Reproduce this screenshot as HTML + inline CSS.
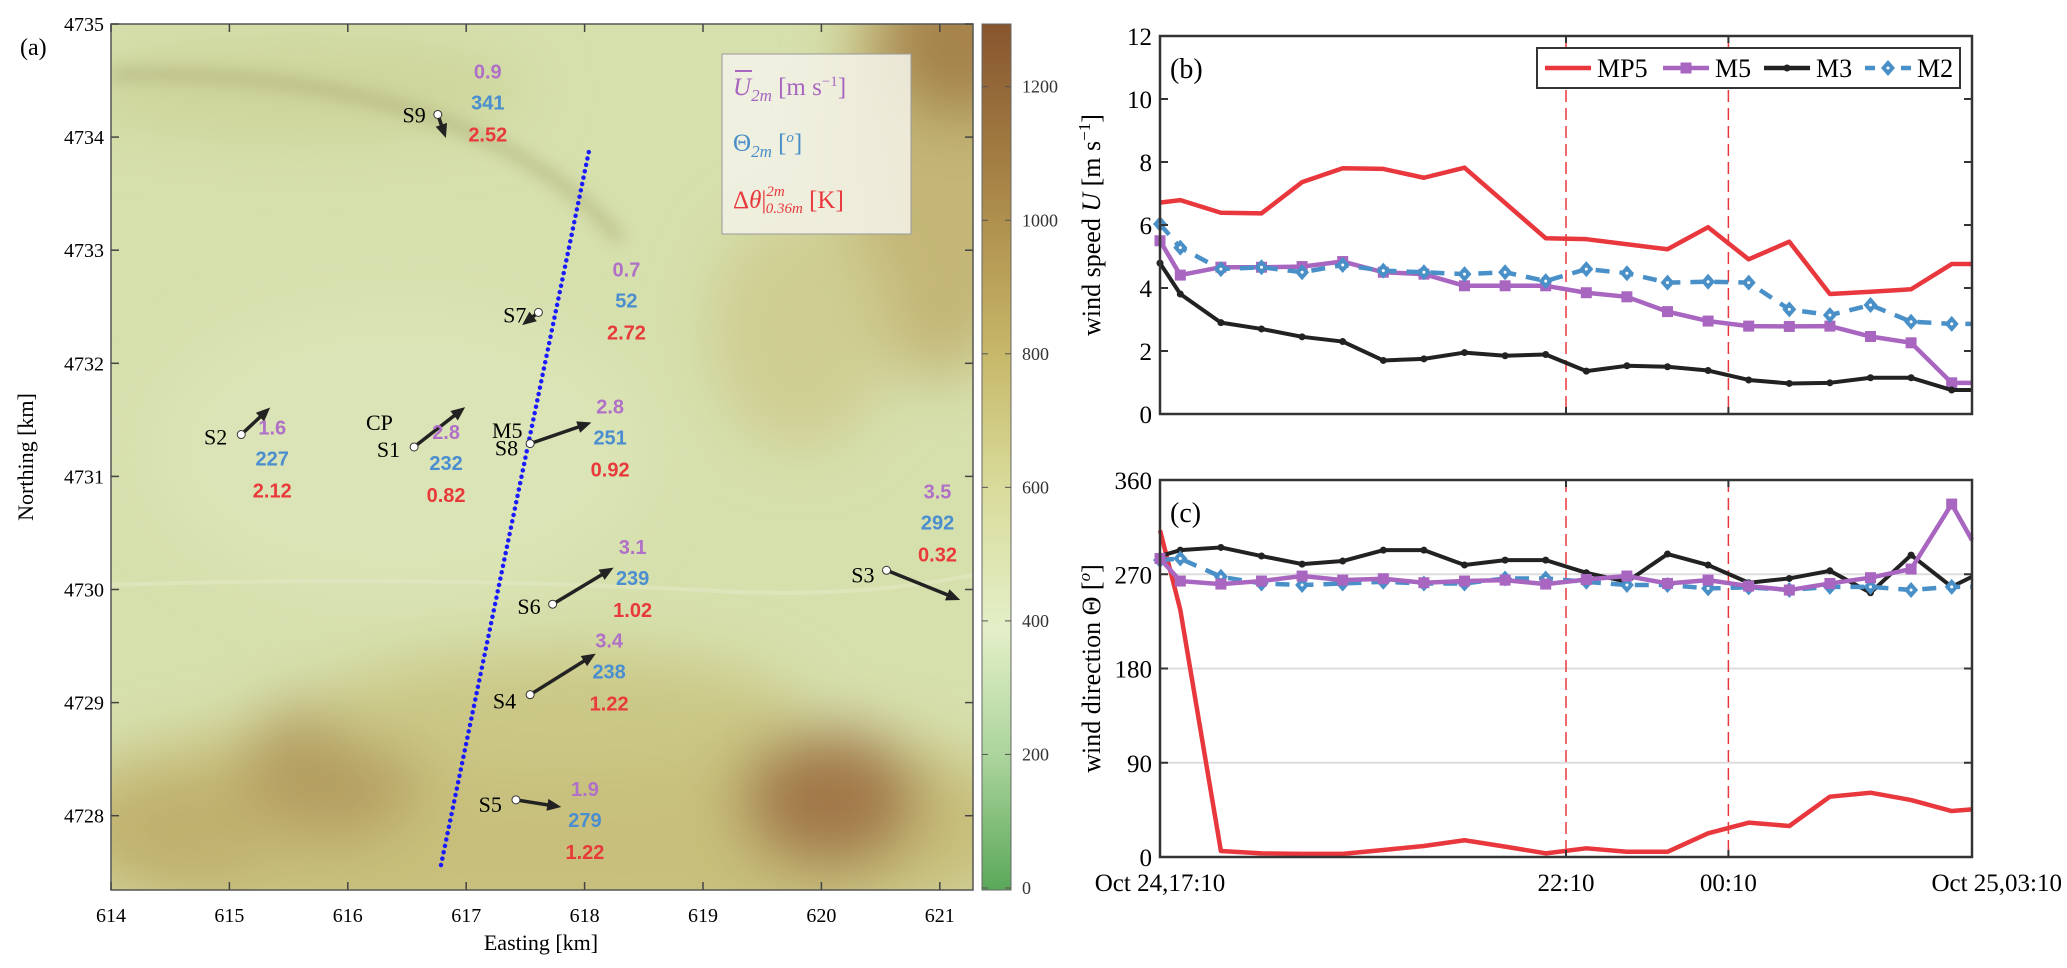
<!DOCTYPE html>
<html><head><meta charset="utf-8"><style>
html,body{margin:0;padding:0;background:#fff;}
svg{display:block;}
text{font-family:"Liberation Serif",serif;}
.num{font-family:"Liberation Sans",sans-serif;font-weight:bold;font-size:20px;}
</style></head><body>
<svg id="fig" width="2067" height="968" viewBox="0 0 2067 968" xmlns="http://www.w3.org/2000/svg">
<defs>
<filter id="blur" x="-50%" y="-50%" width="200%" height="200%"><feGaussianBlur stdDeviation="30"/></filter>
<filter id="blur2" x="-50%" y="-50%" width="200%" height="200%"><feGaussianBlur stdDeviation="8"/></filter>
<clipPath id="mapclip"><rect x="111" y="24" width="862" height="866"/></clipPath>
<linearGradient id="cbar" x1="0" y1="1" x2="0" y2="0">
<stop offset="0" stop-color="#5aa85a"/><stop offset="0.15" stop-color="#a9d39a"/>
<stop offset="0.3" stop-color="#e4efc8"/><stop offset="0.46" stop-color="#d9dc9c"/>
<stop offset="0.62" stop-color="#c7b86a"/><stop offset="0.78" stop-color="#ae8e4c"/>
<stop offset="1" stop-color="#87552e"/></linearGradient>
</defs>
<g id="panel-a">
<g clip-path="url(#mapclip)">
<rect x="111" y="24" width="862" height="866" fill="#d6e0ad"/>
<g filter="url(#blur)">
<ellipse cx="940" cy="150" rx="100" ry="230" fill="#c3b676"/>
<ellipse cx="960" cy="40" rx="80" ry="80" fill="#a5834c"/>
<ellipse cx="800" cy="330" rx="90" ry="120" fill="#cfcd92"/>
<ellipse cx="540" cy="830" rx="520" ry="120" fill="#c8bf7c"/>
<ellipse cx="830" cy="800" rx="90" ry="70" fill="#a27848"/>
<ellipse cx="330" cy="770" rx="90" ry="70" fill="#b49d60"/>
<ellipse cx="180" cy="830" rx="90" ry="60" fill="#c0b06e"/>
<ellipse cx="300" cy="90" rx="230" ry="50" fill="#cdd49a"/>
<ellipse cx="560" cy="710" rx="240" ry="60" fill="#cbc886"/>
<ellipse cx="400" cy="450" rx="250" ry="150" fill="#dbe4b6"/>
</g>
<path d="M111,75 Q300,70 440,120 Q560,165 620,240" stroke="#aaa974" stroke-width="12" fill="none" filter="url(#blur2)" opacity="0.6"/>
<path d="M111,585 Q400,575 700,590 Q850,600 973,575" stroke="#e3e7c4" stroke-width="4" fill="none" opacity="0.6"/>
</g>
<rect x="111" y="24" width="862" height="866" fill="none" stroke="#555" stroke-width="1.5"/>
<g id="map-axes"></g>
<line x1="441" y1="865" x2="589" y2="151" stroke="#1a1aff" stroke-width="4.5" stroke-dasharray="0,6.5" stroke-linecap="round"/>
<g id="stations"></g>
<g>
<rect x="722" y="54" width="189" height="180" fill="#f3f1e6" fill-opacity="0.88" stroke="#999" stroke-width="1"/>
<text x="733" y="95" font-size="25" fill="#a866c0"><tspan font-style="italic">U</tspan><tspan font-size="17" dy="6" font-style="italic">2m</tspan><tspan dy="-6"> [m s</tspan><tspan font-size="15" dy="-9">−1</tspan><tspan dy="9">]</tspan></text>
<line x1="735" y1="71" x2="752" y2="71" stroke="#a866c0" stroke-width="2"/>
<text x="733" y="151" font-size="25" fill="#4a8ec8">Θ<tspan font-size="17" dy="6" font-style="italic">2m</tspan><tspan dy="-6"> [</tspan><tspan font-size="15" dy="-9" font-style="italic">o</tspan><tspan dy="9">]</tspan></text>
<text x="733" y="208" font-size="25" fill="#e8383d">Δ<tspan font-style="italic">θ</tspan>|<tspan font-size="15" dy="-12" font-style="italic">2m</tspan><tspan font-size="15" dx="-19" dy="17" font-style="italic">0.36m</tspan><tspan dy="-5"> [K]</tspan></text>
</g>
<rect x="982" y="24" width="29" height="866" fill="url(#cbar)" stroke="#666" stroke-width="1"/>
<g id="cbar-ticks"></g>
<text x="20" y="55" font-size="24">(a)</text>
<text transform="translate(33,457) rotate(-90)" text-anchor="middle" font-size="22">Northing [km]</text>
<text x="541" y="950" text-anchor="middle" font-size="22">Easting [km]</text>
</g>
<g id="panel-b"></g>
<g id="panel-c"></g>
</svg>
<script>
// ---------- time-series data ----------
const times = [0,15,45,75,105,135,165,195,225,255,285,315,345,375,405,435,465,495,525,555,585,600];
const speedMP5 = [6.71,6.79,6.39,6.37,7.36,7.8,7.78,7.5,7.82,6.7,5.58,5.55,5.39,5.23,5.93,4.91,5.47,3.81,3.88,3.96,4.76,4.76];
const speedM5 = [5.5,4.41,4.66,4.66,4.68,4.84,4.5,4.44,4.07,4.07,4.07,3.85,3.72,3.25,2.95,2.79,2.78,2.79,2.46,2.26,0.99,0.99];
const speedM3 = [4.79,3.81,2.9,2.7,2.45,2.3,1.7,1.75,1.95,1.85,1.89,1.36,1.53,1.5,1.38,1.08,0.97,0.99,1.15,1.15,0.76,0.76];
const speedM2 = [6.03,5.28,4.6,4.66,4.5,4.73,4.55,4.5,4.44,4.5,4.22,4.6,4.47,4.17,4.2,4.17,3.32,3.14,3.46,2.93,2.86,2.86];
const dirMP5 = [312,236,5.7,3.5,3,3,6.7,10.5,16,9.9,3.5,8.3,5,5,22.6,32.8,29.6,57.6,61.4,54.4,43.9,45.5];
const dirM5 = [285,263.5,260.6,263.5,268.3,264.4,265.7,261.9,263.5,264.4,260.6,265,268.3,261.2,264.4,258.7,254.9,261.2,266.7,275,337,302.6];
const dirM3 = [287.4,293,295.6,287.4,279.7,282.6,293,293,278.8,283.5,283.5,271.4,262.8,289.3,278.8,261.9,266,273.3,252.3,288.3,258,267.6];
const dirM2 = [283.5,285,267.6,261.2,259.7,261.2,262.8,261.2,261.2,266,266,262.8,259.7,259.7,256.5,257.5,255,258,258,255,258,258];
const speedTicks = [0,2,4,6,8,10,12];
const dirTicks = [0,90,180,270,360];
const timeTickValues = [0,300,420,600];
const timeTickLabels = ["Oct 24,17:10","22:10","00:10","Oct 25,03:10"];
const eventTimes = [0,300,420,600];
// ---------- map data ----------
const eastTicks = [614,615,616,617,618,619,620,621];
const northTicks = [4728,4729,4730,4731,4732,4733,4734,4735];
const elevTicks = [0,200,400,600,800,1000,1200];
const stationNames = ["S9","S7","S1","S2","S8","S3","S6","S4","S5"];
const stationE = [616.76,617.61,616.56,615.1,617.54,620.55,617.73,617.54,617.42];
const stationN = [4734.2,4732.45,4731.26,4731.37,4731.29,4730.17,4729.87,4729.07,4728.14];
const windSpeed = [0.9,0.7,2.8,1.6,2.8,3.5,3.1,3.4,1.9];
const windDir = [341,52,232,227,251,292,239,238,279];
const dTheta = ["2.52","2.72","0.82","2.12","0.92","0.32","1.02","1.22","1.22"];

const NS="http://www.w3.org/2000/svg";
function mk(parent,tag,attrs,txt){const e=document.createElementNS(NS,tag);for(const k in attrs)e.setAttribute(k,attrs[k]);if(txt!==undefined)e.textContent=txt;parent.appendChild(e);return e;}

// ---------- map axes ----------
const mapE = e => 111+(e-614)*118.4;
const mapN = n => 24+(4735-n)*113.1;
const ma=document.getElementById('map-axes');
eastTicks.forEach(e=>{
  const x=mapE(e);
  const t=mk(ma,'line',{x1:x,y1:890,x2:x,y2:882,stroke:'#444','stroke-width':1.5});
  
  
  mk(ma,'line',{x1:x,y1:24,x2:x,y2:32,stroke:'#444','stroke-width':1.5});
  const l=mk(ma,'text',{x:x,y:922,'text-anchor':'middle','font-size':20},String(e));
  
  
});
northTicks.forEach(n=>{
  const y=mapN(n);
  mk(ma,'line',{x1:111,y1:y,x2:119,y2:y,stroke:'#444','stroke-width':1.5});
  mk(ma,'line',{x1:973,y1:y,x2:965,y2:y,stroke:'#444','stroke-width':1.5});
  const l=mk(ma,'text',{x:104,y:y+7,'text-anchor':'end','font-size':20},String(n));
  
  
});
const cb=document.getElementById('cbar-ticks');
const cbY = v => 888-v*(888-86.7)/1200;
elevTicks.forEach(v=>{
  const y=cbY(v);
  mk(cb,'line',{x1:982,y1:y,x2:988,y2:y,stroke:'#555'});
  mk(cb,'line',{x1:1011,y1:y,x2:1005,y2:y,stroke:'#555'});
  const l=mk(cb,'text',{x:1022,y:y+6,'font-size':18,'font-family':'Liberation Mono, monospace',fill:'#333'},String(v));
  
  
});

// ---------- stations ----------
const st=document.getElementById('stations');
const labelOffsets = {S9:[-12,8],S7:[-12,10],S1:[-14,10],S2:[-14,10],S8:[-12,12],S3:[-12,12],S6:[-12,10],S4:[-14,14],S5:[-14,12]};
const numOffsets = {S9:[50,-36],S7:[88,-36],S1:[32,-8],S2:[31,0],S8:[80,-30],S3:[51,-72],S6:[80,-50],S4:[79,-47],S5:[69,-4]};
stationNames.forEach((name,i)=>{
  const x=mapE(stationE[i]), y=mapN(stationN[i]);
  const g=mk(st,'g',{});
  
  
  const len=6+windSpeed[i]*21;
  const ang=(windDir[i]+180)*Math.PI/180;
  const dx=Math.sin(ang)*len, dy=-Math.cos(ang)*len;
  const x2=x+dx,y2=y+dy;
  mk(g,'line',{x1:x,y1:y,x2:x2-dx/len*8,y2:y2-dy/len*8,stroke:'#222','stroke-width':3.5});
  const ux=dx/len,uy=dy/len;
  mk(g,'polygon',{points:`${x2},${y2} ${x2-ux*14-uy*6},${y2-uy*14+ux*6} ${x2-ux*14+uy*6},${y2-uy*14-ux*6}`,fill:'#222'});
  mk(g,'circle',{cx:x,cy:y,r:4,fill:'#fff',stroke:'#333','stroke-width':1});
  const lo=labelOffsets[name];
  mk(g,'text',{x:x+lo[0],y:y+lo[1],'text-anchor':'end','font-size':22},name);
  const no=numOffsets[name];
  const nx=x+no[0], ny=y+no[1];
  mk(g,'text',{x:nx,y:ny,'text-anchor':'middle',class:'num',fill:'#b070c8'},windSpeed[i].toFixed(1));
  mk(g,'text',{x:nx,y:ny+31,'text-anchor':'middle',class:'num',fill:'#4a8ed0'},String(windDir[i]));
  mk(g,'text',{x:nx,y:ny+63,'text-anchor':'middle',class:'num',fill:'#e83a3a'},dTheta[i]);
});
const cp=mk(st,'text',{x:366,y:430,'font-size':22},'CP');


const m5l=mk(st,'text',{x:492,y:438,'font-size':22},'M5');



// ---------- time series panels ----------
const X0=1160, X1=1972;
const xT = t => X0+t*(X1-X0)/600;
const colors={MP5:'#e8383d',M5:'#a866c0',M3:'#222222',M2:'#4a90c8'};

function marker(g,name,x,y){
  if(name==='M5') mk(g,'rect',{x:x-5.5,y:y-5.5,width:11,height:11,fill:colors.M5});
  else if(name==='M3') mk(g,'circle',{cx:x,cy:y,r:3.5,fill:colors.M3});
  else if(name==='M2'){mk(g,'polygon',{points:`${x},${y-8} ${x+7},${y} ${x},${y+8} ${x-7},${y}`,fill:colors.M2});mk(g,'circle',{cx:x,cy:y,r:1.5,fill:'#fff'});}
}
function drawPanel(id,top,bottom,vmax,ticks,series,grid,label,ylabel){
  const P=document.getElementById(id);
  const yV = v => bottom-v*(bottom-top)/vmax;
  if(grid) ticks.forEach(v=>{ if(v>0&&v<vmax){const gl=mk(P,'line',{x1:X0,y1:yV(v),x2:X1,y2:yV(v),stroke:'#ddd','stroke-width':2});}});
  eventTimes.forEach(t=>{
    const l=mk(P,'line',{x1:xT(t),y1:top,x2:xT(t),y2:bottom,stroke:'#e8383d','stroke-width':1.5,'stroke-dasharray':'12,6'});
    
    
  });
  series.forEach(s=>{
    const g=mk(P,'g',{});
    
    
    const pts=times.map((t,i)=>xT(t)+','+yV(s.vals[i])).join(' ');
    const attrs={points:pts,fill:'none',stroke:colors[s.name],'stroke-width':s.name==='M3'?4:4.5,'stroke-linejoin':'round'};
    if(s.name==='M2') attrs['stroke-dasharray']='14,10';
    mk(g,'polyline',attrs);
    if(s.name!=='MP5') times.forEach((t,i)=>{ if(i<times.length-1) marker(g,s.name,xT(t),yV(s.vals[i])); });
  });
  const fr=mk(P,'rect',{x:X0,y:top,width:X1-X0,height:bottom-top,fill:'none',stroke:'#333','stroke-width':2.5});
  
  
  ticks.forEach(v=>{
    const y=yV(v);
    mk(P,'line',{x1:X0,y1:y,x2:X0+8,y2:y,stroke:'#333','stroke-width':2});
    mk(P,'line',{x1:X1,y1:y,x2:X1-8,y2:y,stroke:'#333','stroke-width':2});
    const t=mk(P,'text',{x:X0-8,y:y+9,'text-anchor':'end','font-size':25},String(v));
    
    
  });
  timeTickValues.forEach(t=>{
    mk(P,'line',{x1:xT(t),y1:top,x2:xT(t),y2:top+7,stroke:'#333','stroke-width':2});
    mk(P,'line',{x1:xT(t),y1:bottom,x2:xT(t),y2:bottom-7,stroke:'#333','stroke-width':2});
  });
  const pl=mk(P,'text',{x:X0+10,y:top+42,'font-size':28},label);
  
  
  const yl=mk(P,'text',{transform:`translate(1100,${(top+bottom)/2}) rotate(-90)`,'text-anchor':'middle','font-size':26},'');
  yl.innerHTML=ylabel;
  
  
}
drawPanel('panel-b',36,414,12,speedTicks,[{name:'MP5',vals:speedMP5},{name:'M5',vals:speedM5},{name:'M3',vals:speedM3},{name:'M2',vals:speedM2}],false,'(b)','wind speed <tspan font-style="italic">U</tspan> [m s<tspan font-size="17" dy="-10">−1</tspan><tspan dy="10">]</tspan>');
drawPanel('panel-c',480,857,360,dirTicks,[{name:'MP5',vals:dirMP5},{name:'M3',vals:dirM3},{name:'M2',vals:dirM2},{name:'M5',vals:dirM5}],true,'(c)','wind direction Θ [<tspan font-size="17" dy="-10" font-style="italic">o</tspan><tspan dy="10">]</tspan>');
const pc=document.getElementById('panel-c');
timeTickValues.forEach((t,i)=>{
  let x=xT(t), anchor='middle';
  if(i===timeTickLabels.length-1){x=2062;anchor='end';}
  const l=mk(pc,'text',{x:x,y:891,'text-anchor':anchor,'font-size':25},timeTickLabels[i]);
  
  
});
const pb=document.getElementById('panel-b');
const lg=mk(pb,'g',{});


mk(lg,'rect',{x:1537,y:48,width:423,height:40,fill:'#fff',stroke:'#333','stroke-width':2});
const legendNames=['MP5','M5','M3','M2'];
const legendX=[1545,1663,1764,1865];
legendNames.forEach((n,i)=>{
  const e=mk(lg,'g',{});
  
  
  const a={x1:legendX[i],y1:68,x2:legendX[i]+46,y2:68,stroke:colors[n],'stroke-width':4.5};
  if(n==='M2') a['stroke-dasharray']='10,8';
  mk(e,'line',a);
  marker(e,n,legendX[i]+23,68);
  mk(e,'text',{x:legendX[i]+52,y:77,'font-size':26},n);
});
</script>
</body></html>
